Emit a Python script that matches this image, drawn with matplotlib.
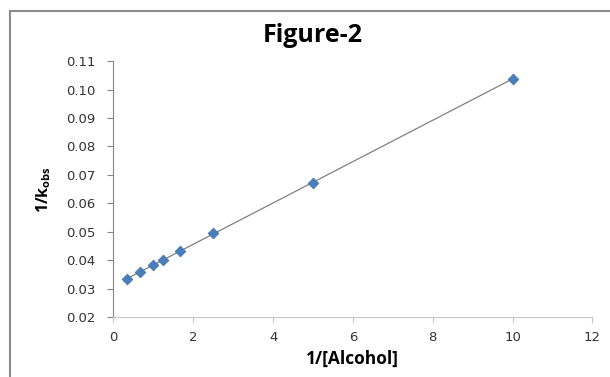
import matplotlib
matplotlib.use("Agg")
import matplotlib.pyplot as plt
from matplotlib.patches import Rectangle
import numpy as np

# data
inv_alcohol = [0.333, 0.667, 1.0, 1.25, 1.667, 2.5, 5.0, 10.0]
inv_kobs = [0.0334, 0.0358, 0.0383, 0.0401, 0.0432, 0.0495, 0.0673, 0.1037]
x_ticks = [0, 2, 4, 6, 8, 10, 12]
y_ticks = [0.02, 0.03, 0.04, 0.05, 0.06, 0.07, 0.08, 0.09, 0.10, 0.11]

fig = plt.figure(figsize=(6.1, 3.77), dpi=100)
ax = fig.add_axes([0.186, 0.159, 0.785, 0.679])

# outer chart border (only left/top visible in the crop)
fig.patches.append(Rectangle((10 / 610, -0.1), 1.2, 1 - 11 / 377 + 0.1,
                             transform=fig.transFigure, fill=False,
                             edgecolor="#8c8c8c", linewidth=1.5))

# linear trendline over the data range
slope, icept = np.polyfit(inv_alcohol, inv_kobs, 1)
xs = np.array([min(inv_alcohol), max(inv_alcohol)])
ax.plot(xs, slope * xs + icept, color="#808080", linewidth=0.9, zorder=2)

ax.scatter(inv_alcohol, inv_kobs, marker="D", s=30, color="#4a7ebb",
           edgecolor="#3d6fad", linewidth=0.5, zorder=3)

ax.set_xlim(0, 12)
ax.set_ylim(0.02, 0.11)
ax.set_xticks(x_ticks)
ax.set_yticks(y_ticks)
ax.set_yticklabels([f"{v:.2f}" for v in y_ticks])

for side in ["top", "right"]:
    ax.spines[side].set_visible(False)
ax.spines["left"].set_color("#868686")
ax.spines["bottom"].set_color("#c8c8c8")
ax.tick_params(axis="y", direction="out", length=4, color="#868686",
               labelsize=9.5, labelcolor="#333333", pad=9)
ax.tick_params(axis="x", direction="out", length=4, color="#c8c8c8",
               labelsize=9.5, labelcolor="#333333", pad=6)

fig.text(0.512, 0.905, "Figure-2", ha="center", va="center",
         fontsize=18, fontweight="bold", family="Open Sans")
ax.set_xlabel("1/[Alcohol]", fontsize=12.5, fontweight="bold",
              family="Open Sans", labelpad=4)
ax.set_ylabel(r"1/$\mathregular{k_{obs}}$", fontsize=11.5, fontweight="bold",
              family="Open Sans", labelpad=9)

fig.savefig("out.png", dpi=100)
